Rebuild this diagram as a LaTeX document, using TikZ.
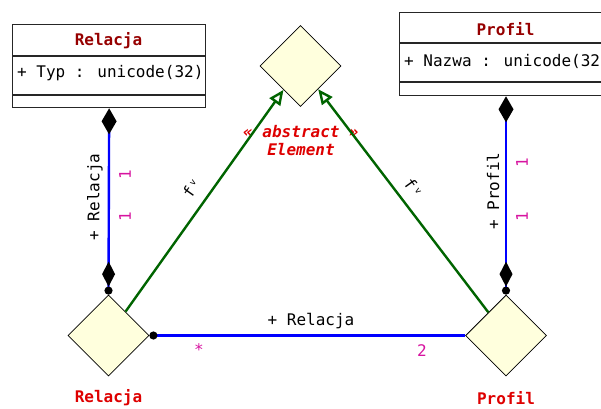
\documentclass[tikz,border=0pt]{standalone}
\usepackage{fontspec}
\setmainfont{DejaVu Sans Mono}
\setmonofont{DejaVu Sans Mono}
\usetikzlibrary{shapes.geometric,arrows.meta}
\definecolor{dfill}{RGB}{255,255,221}
\definecolor{titlered}{RGB}{150,0,0}
\definecolor{labred}{RGB}{222,0,0}
\definecolor{mult}{RGB}{215,20,160}
\definecolor{gen}{RGB}{0,100,0}
\definecolor{assoc}{RGB}{0,0,255}
\begin{document}
\begin{tikzpicture}[x=1pt,y=-1pt,
  every node/.style={font=\fontsize{16}{19}\selectfont},
  classbox/.style={draw=black!85,line width=1.3pt,inner sep=0pt,anchor=north west},
  elem/.style={diamond,draw=black,line width=0.8pt,fill=dfill,minimum width=81pt,minimum height=81pt,inner sep=0pt},
  ctitle/.style={text=titlered,font=\fontsize{16}{19}\selectfont\bfseries},
  elabel/.style={text=labred,font=\fontsize{16}{19}\selectfont\bfseries},
  mlabel/.style={text=mult},
  genline/.style={draw=gen,line width=2.4pt,-{Triangle[open,length=15pt,width=13pt,fill=white]}},
  compline/.style={draw=assoc,line width=2.4pt,
     {Diamond[length=26pt,width=15pt,color=black,fill=black]}-{Diamond[length=25pt,width=13pt,color=black,fill=black] Circle[length=8pt,color=black,fill=black]}},
  assocline/.style={draw=assoc,line width=2.4pt,{Circle[length=8pt,fill=black,color=black]}-},
]
\useasboundingbox (0,0) rectangle (601,408);
% class Relacja
\node[classbox,minimum width=193pt,minimum height=83pt] (relbox) at (12,24) {};
\draw[black!85,line width=1.3pt] (12,56) -- (205,56) (12,95) -- (205,95);
\node[ctitle] (reltitle) at (108.5,41) {Relacja};
\node[anchor=west,inner sep=0pt] (relattr) at (17,73) {+ Typ : unicode(32)};
% class Profil
\node[classbox,minimum width=213pt,minimum height=83pt] (profbox) at (399,12) {};
\draw[black!85,line width=1.3pt] (399,43) -- (612,43) (399,82) -- (612,82);
\node[ctitle] (proftitle) at (505.5,29) {Profil};
\node[anchor=west,inner sep=0pt] (profattr) at (404,61) {+ Nazwa : unicode(32)};
% elements
\node[elem] (topd) at (300.5,66) {};
\node[elem] (reld) at (108.5,335.5) {};
\node[elem] (profd) at (506,335.5) {};
\node[elabel] (rellab) at (108.5,398) {Relacja};
\node[elabel] (proflab) at (506,398) {Profil};
\node[text=labred,font=\fontsize{16}{19}\selectfont\bfseries\itshape,align=center,inner sep=0pt] (abs) at (301,141) {« abstract »\\[-1pt]Element};
% generalizations
\draw[genline] (reld) -- (topd);
\draw[genline] (profd) -- (topd);
\node[rotate=54.5,inner sep=0pt] (f1) at (191,189) {f\,\raisebox{0.6ex}{\fontsize{9}{10}\selectfont v}};
\node[rotate=-54.5,inner sep=0pt] (f2) at (413,187) {f\,\raisebox{0.6ex}{\fontsize{9}{10}\selectfont v}};
% compositions
\draw[compline] (relbox.south) -- (reld.north);
\draw[compline] (profbox.south -| profd.north) -- (profd.north);
\node[rotate=90,inner sep=0pt] (rl) at (95,197) {+ Relacja};
\node[mlabel,rotate=90,inner sep=0pt] (m1) at (125,175) {1};
\node[mlabel,rotate=90,inner sep=0pt] (m2) at (125,217) {1};
\node[rotate=90,inner sep=0pt] (pl) at (493,191) {+ Profil};
\node[mlabel,rotate=90,inner sep=0pt] (m3) at (522,163) {1};
\node[mlabel,rotate=90,inner sep=0pt] (m4) at (522,217) {1};
% association
\draw[assocline] (reld.east) -- (profd.west);
\node[inner sep=0pt] (al) at (311,321) {+ Relacja};
\node[mlabel,inner sep=0pt] (ms) at (199,350) {*};
\node[mlabel,inner sep=0pt] (m5) at (422,351) {2};
\end{tikzpicture}
\end{document}
